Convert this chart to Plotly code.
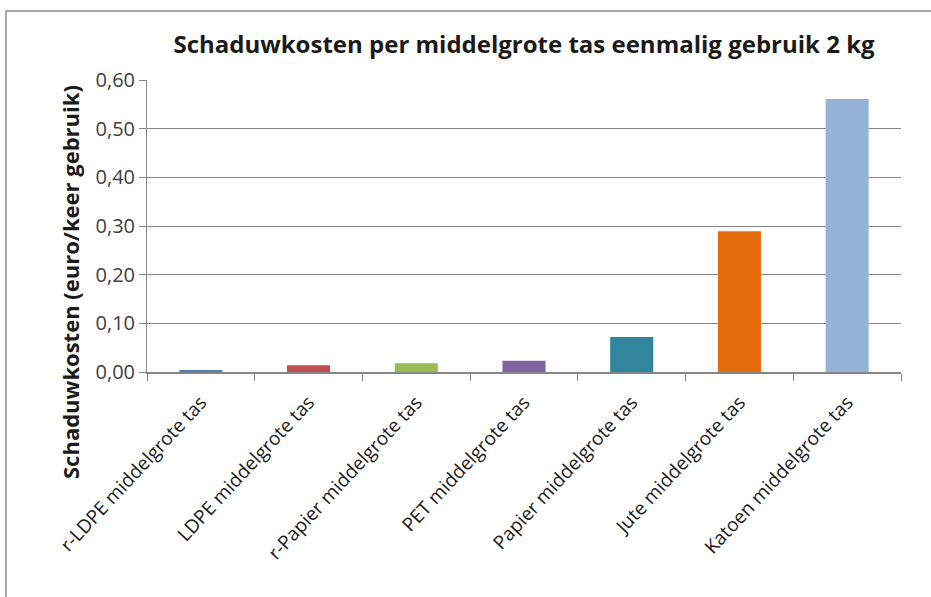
import plotly.graph_objects as go

categories = ["r-LDPE middelgrote tas", "LDPE middelgrote tas", "r-Papier middelgrote tas",
              "PET middelgrote tas", "Papier middelgrote tas", "Jute middelgrote tas",
              "Katoen middelgrote tas"]
values = [0.004, 0.014, 0.018, 0.023, 0.072, 0.289, 0.561]
colors = ["#4F81BD", "#C0504D", "#9BBB59", "#8064A2", "#31859C", "#E46C0A", "#95B3D7"]
y_ticks = [0.0, 0.1, 0.2, 0.3, 0.4, 0.5, 0.6]

W, H = 931, 597
L, R, T, B = 147, 30, 80, 225
pw, ph = W - L - R, H - T - B

fig = go.Figure(go.Bar(x=categories, y=values, marker=dict(color=colors, line=dict(width=0)),
                       width=0.4))

gray = "#868686"
FONT = "Open Sans"
fig.update_layout(
    width=W, height=H,
    margin=dict(l=L, r=R, t=T, b=B, autoexpand=False),
    paper_bgcolor="white", plot_bgcolor="white",
    separators=",.",
    showlegend=False,
    font=dict(family=FONT, color="#404040"),
    title=dict(text="<b>Schaduwkosten per middelgrote tas eenmalig gebruik 2 kg</b>",
               x=0.5, xref="paper", xanchor="center", y=1 - 45 / H, yanchor="middle",
               font=dict(family=FONT, size=24, color="#1a1a1a")),
    yaxis=dict(range=[0, 0.6], tickvals=y_ticks, tickformat=".2f", automargin=False,
               showgrid=True, gridcolor=gray, gridwidth=1,
               showline=True, linecolor=gray, linewidth=1,
               ticks="outside", ticklen=7, tickcolor=gray,
               tickfont=dict(size=20, color="#404040", family=FONT), zeroline=False),
    xaxis=dict(type="category", tickangle=-47, tickson="boundaries", automargin=False,
               showline=True, linecolor=gray, linewidth=1.5,
               ticks="outside", ticklen=7, tickcolor=gray, ticklabelstandoff=10,
               tickfont=dict(size=19, color="#1a1a1a", family=FONT), showgrid=False),
)

fig.add_annotation(text="<b>Schaduwkosten (euro/keer gebruik)</b>", textangle=-90,
                   xref="paper", yref="paper", x=(70 - L) / pw, y=(H - B - 282) / ph,
                   showarrow=False, xanchor="center", yanchor="middle",
                   font=dict(family=FONT, size=22, color="#1a1a1a"))

fig.add_shape(type="rect", xref="paper", yref="paper",
              x0=(6 - L) / pw, x1=(W + 20 - L) / pw,
              y0=-(B + 20) / ph, y1=1 + (T - 11) / ph,
              line=dict(color="#8c8c8c", width=1.5), layer="below")

fig.write_html("out.html", config={"displayModeBar": False},
               post_script="document.body.style.margin='0';document.body.style.overflow='hidden';")
